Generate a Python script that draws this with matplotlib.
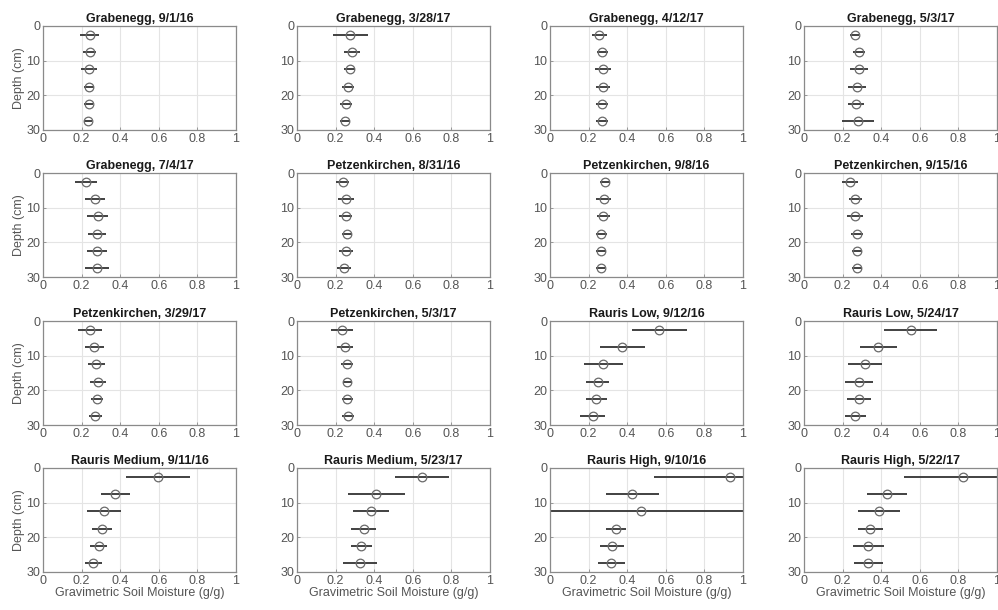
import matplotlib
matplotlib.use('Agg')
import matplotlib.pyplot as plt
import numpy as np

plt.rcParams['font.family'] = ['Liberation Sans', 'DejaVu Sans']

# depth of each sample (cm)
depths = [2.5, 7.5, 12.5, 17.5, 22.5, 27.5]

titles = [
    'Grabenegg, 9/1/16', 'Grabenegg, 3/28/17', 'Grabenegg, 4/12/17', 'Grabenegg, 5/3/17',
    'Grabenegg, 7/4/17', 'Petzenkirchen, 8/31/16', 'Petzenkirchen, 9/8/16', 'Petzenkirchen, 9/15/16',
    'Petzenkirchen, 3/29/17', 'Petzenkirchen, 5/3/17', 'Rauris Low, 9/12/16', 'Rauris Low, 5/24/17',
    'Rauris Medium, 9/11/16', 'Rauris Medium, 5/23/17', 'Rauris High, 9/10/16', 'Rauris High, 5/22/17',
]

# mean gravimetric soil moisture per depth
means = [
    [0.242, 0.242, 0.238, 0.240, 0.237, 0.231],
    [0.277, 0.285, 0.273, 0.263, 0.256, 0.251],
    [0.256, 0.270, 0.275, 0.275, 0.268, 0.268],
    [0.263, 0.285, 0.285, 0.273, 0.270, 0.280],
    [0.223, 0.271, 0.283, 0.280, 0.280, 0.280],
    [0.237, 0.256, 0.253, 0.260, 0.253, 0.244],
    [0.285, 0.279, 0.277, 0.266, 0.265, 0.263],
    [0.239, 0.266, 0.266, 0.273, 0.275, 0.273],
    [0.242, 0.266, 0.275, 0.285, 0.280, 0.271],
    [0.234, 0.247, 0.260, 0.260, 0.261, 0.265],
    [0.567, 0.374, 0.277, 0.247, 0.240, 0.221],
    [0.552, 0.386, 0.315, 0.285, 0.285, 0.266],
    [0.596, 0.375, 0.318, 0.306, 0.290, 0.261],
    [0.647, 0.410, 0.384, 0.346, 0.334, 0.327],
    [0.934, 0.427, 0.474, 0.341, 0.320, 0.318],
    [0.822, 0.431, 0.389, 0.343, 0.334, 0.334],
]

# standard deviation per depth
errs = [
    [0.049, 0.033, 0.040, 0.026, 0.023, 0.021],
    [0.093, 0.044, 0.029, 0.030, 0.031, 0.026],
    [0.039, 0.029, 0.040, 0.036, 0.031, 0.032],
    [0.023, 0.030, 0.045, 0.047, 0.043, 0.081],
    [0.058, 0.051, 0.056, 0.049, 0.053, 0.061],
    [0.035, 0.041, 0.034, 0.026, 0.036, 0.036],
    [0.026, 0.039, 0.034, 0.030, 0.026, 0.024],
    [0.043, 0.035, 0.042, 0.031, 0.024, 0.025],
    [0.063, 0.050, 0.044, 0.042, 0.031, 0.034],
    [0.057, 0.041, 0.032, 0.024, 0.029, 0.032],
    [0.144, 0.117, 0.099, 0.058, 0.056, 0.064],
    [0.135, 0.096, 0.089, 0.070, 0.062, 0.055],
    [0.164, 0.076, 0.088, 0.054, 0.044, 0.043],
    [0.138, 0.147, 0.095, 0.064, 0.054, 0.087],
    [0.394, 0.137, 0.600, 0.051, 0.063, 0.071],
    [0.303, 0.105, 0.108, 0.064, 0.079, 0.077],
]

W, H = 998, 610
fig = plt.figure(figsize=(W / 100, H / 100), dpi=100)

col_left = [43, 297, 550, 804]
row_top = [26, 173, 321, 468]
ax_w, ax_h = 193, 104

for i in range(16):
    r, c = divmod(i, 4)
    ax = fig.add_axes([col_left[c] / W, 1 - (row_top[r] + ax_h) / H, ax_w / W, ax_h / H])
    ax.errorbar(means[i], depths, xerr=errs[i], fmt='o', mfc='none', mec='#6a6a6a',
                ms=6.2, mew=0.9, ecolor='#333333', elinewidth=1.3, capsize=0)
    ax.set_xlim(0, 1)
    ax.set_ylim(30, 0)
    ax.set_xticks([0, 0.2, 0.4, 0.6, 0.8, 1])
    ax.set_xticklabels(['0', '0.2', '0.4', '0.6', '0.8', '1'])
    ax.set_yticks([0, 10, 20, 30])
    ax.grid(True, color='#e4e4e4', linewidth=0.8)
    ax.set_axisbelow(True)
    for s in ax.spines.values():
        s.set_color('#8a8a8a')
        s.set_linewidth(0.9)
    ax.tick_params(direction='in', length=2.5, width=0.6, color='#8a8a8a',
                   labelcolor='#555555', labelsize=9, pad=2)
    ax.set_title(titles[i], fontsize=9, fontweight='bold', color='#1a1a1a', pad=3)
    if c == 0:
        ax.set_ylabel('Depth (cm)', fontsize=9, color='#555555', labelpad=1)
    if r == 3:
        ax.set_xlabel('Gravimetric Soil Moisture (g/g)', fontsize=9, color='#555555', labelpad=0)

fig.savefig('out.png', dpi=100)
